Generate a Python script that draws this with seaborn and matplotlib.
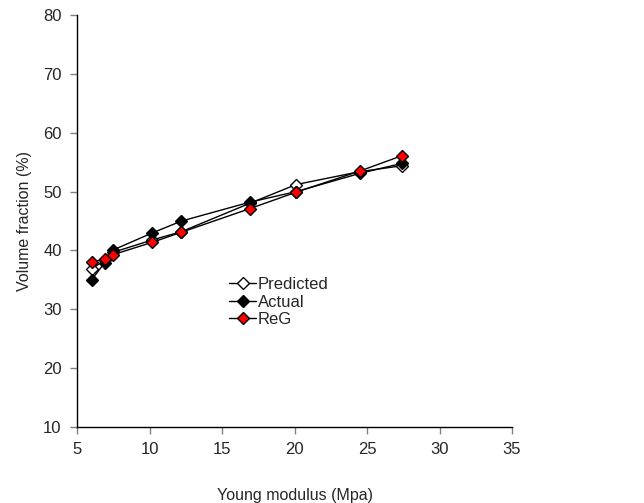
import matplotlib
matplotlib.use("Agg")
import matplotlib.pyplot as plt
import seaborn as sns
import pandas as pd

young_modulus = [6.0, 6.9, 7.5, 10.2, 12.2, 16.9, 20.1, 24.5, 27.4]
predicted = [36.9, 38.3, 39.7, 41.8, 43.2, 48.0, 51.2, 53.4, 54.4]
actual = [35.0, 37.9, 40.1, 43.0, 45.0, 48.2, 50.0, 53.1, 54.8]
reg = [38.0, 38.6, 39.3, 41.4, 43.1, 47.1, 49.9, 53.5, 56.1]

series_names = ["Predicted", "Actual", "ReG"]
x_ticks = [5, 10, 15, 20, 25, 30, 35]
y_ticks = [10, 20, 30, 40, 50, 60, 70, 80]

df = pd.concat([
    pd.DataFrame({"x": young_modulus, "y": predicted, "series": "Predicted"}),
    pd.DataFrame({"x": young_modulus, "y": actual, "series": "Actual"}),
    pd.DataFrame({"x": young_modulus, "y": reg, "series": "ReG"}),
])

sns.set_style("ticks")
plt.rcParams["font.family"] = ["Liberation Sans", "DejaVu Sans"]

fig = plt.figure(figsize=(6.44, 5.03), dpi=100)
ax = fig.add_axes([0.1196, 0.151, 0.6755, 0.819])

fills = {"Predicted": "white", "Actual": "black", "ReG": "#ff0000"}
for name in series_names:
    sub = df[df["series"] == name]
    sns.lineplot(data=sub, x="x", y="y", ax=ax, color="black", linewidth=1.0,
                 marker="D", markersize=6.5, markerfacecolor=fills[name],
                 markeredgecolor="black", markeredgewidth=1.0, label=name,
                 sort=False)

ax.set_xlim(5, 35)
ax.set_ylim(10, 80)
ax.set_xticks(x_ticks)
ax.set_yticks(y_ticks)
ax.tick_params(axis="both", direction="out", length=5, width=1, color="#808080",
               labelsize=12, pad=6)
for s in ["top", "right"]:
    ax.spines[s].set_visible(False)
for s in ["left", "bottom"]:
    ax.spines[s].set_color("black")
    ax.spines[s].set_linewidth(1.0)

ax.set_xlabel("Young modulus (Mpa)", fontsize=11.5, labelpad=22)
ax.set_ylabel("Volume fraction (%)", fontsize=11.5, labelpad=8)

leg = ax.legend(loc="upper left", bbox_to_anchor=(0.335, 0.38), frameon=False,
                fontsize=12, handlelength=1.6, handletextpad=0.1,
                labelspacing=0.15, borderaxespad=0)

fig.savefig("out.png", dpi=100)
